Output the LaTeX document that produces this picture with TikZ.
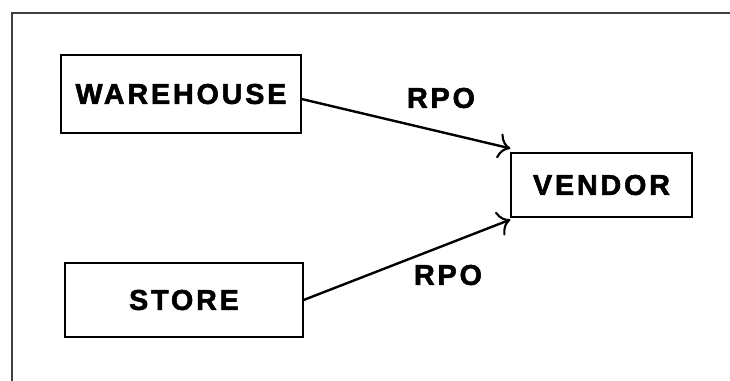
\documentclass[tikz,border=0pt]{standalone}
\usepackage{fontspec}
\usepackage{tikz}
\usetikzlibrary{arrows.meta}
\newfontfamily\labelfont[LetterSpace=10,FakeBold=2]{Liberation Sans Bold}
\definecolor{framegray}{rgb}{0.25,0.25,0.25}

\tikzset{
  entity/.style={draw, line width=0.9pt, inner sep=0pt, font=\labelfont\fontsize{21.5}{25}\selectfont},
  flow/.style={line width=1.8pt, -{To[length=9pt,width=19pt,line width=1.6pt]}},
  flowlabel/.style={inner sep=0pt, font=\labelfont\fontsize{21.5}{25}\selectfont}
}

\begin{document}
\begin{tikzpicture}[x=0.75pt,y=0.75pt,yscale=-1]
\useasboundingbox (0,0) rectangle (730,380);

% outer frame, only left and top edges show
\draw [framegray, line width=1.5pt] (12,381) -- (12,13) -- (731,13);

% boxes
\node [entity, minimum width=180pt, minimum height=58.5pt] (warehouse) at (181,94) {WAREHOUSE};
\node [entity, minimum width=178.5pt, minimum height=55.5pt] (store) at (184,300) {STORE};
\node [entity, minimum width=135.75pt, minimum height=48pt] (vendor) at (601.5,185) {VENDOR};

% arrows
\draw [flow] ([yshift=3.75pt]warehouse.east) -- ([yshift=-3pt]vendor.north west);
\draw [flow] (store.east) -- ([yshift=1.5pt]vendor.south west);

% labels
\node [flowlabel] (rpotop) at (441,98) {RPO};
\node [flowlabel] (rpobottom) at (448,275) {RPO};
\end{tikzpicture}
\end{document}
